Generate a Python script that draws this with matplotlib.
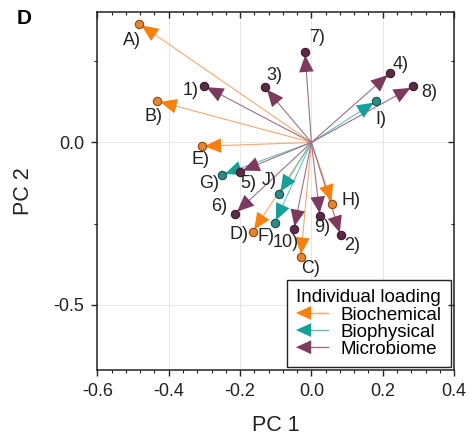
import matplotlib
matplotlib.use("Agg")
import matplotlib.pyplot as plt
from matplotlib.lines import Line2D
from matplotlib.patches import FancyArrowPatch, Polygon
from matplotlib.legend_handler import HandlerBase
from matplotlib.ticker import MultipleLocator

plt.rcParams["font.family"] = ["Liberation Sans", "DejaVu Sans"]

# PCA loadings (PC 1, PC 2) per variable group
biochem_names = ["A)", "B)", "C)", "D)", "E)", "H)"]
biochem_pc1 = [-0.483, -0.432, -0.030, -0.165, -0.308, 0.059]
biochem_pc2 = [0.365, 0.127, -0.353, -0.276, -0.012, -0.190]

biophys_names = ["F)", "G)", "I)", "J)"]
biophys_pc1 = [-0.103, -0.250, 0.182, -0.091]
biophys_pc2 = [-0.248, -0.100, 0.127, -0.159]

micro_names = ["1)", "2)", "3)", "4)", "5)", "6)", "7)", "8)", "9)", "10)"]
micro_pc1 = [-0.301, 0.082, -0.130, 0.220, -0.200, -0.214, -0.018, 0.285, 0.024, -0.049]
micro_pc2 = [0.174, -0.286, 0.169, 0.213, -0.090, -0.219, 0.277, 0.172, -0.227, -0.267]

# label offsets in points so the text sits clear of the arrow tips
label_offsets = {
    "A)": (-5, -12), "B)": (-3, -11), "C)": (7, -8.5), "D)": (-10, -2),
    "E)": (-1, -9.5), "H)": (13, 3), "F)": (-6.5, -9.5), "G)": (-9.5, -6),
    "I)": (3, -13), "J)": (-7, 10), "1)": (-10, -3.5), "2)": (8.5, -7),
    "3)": (6.5, 8.5), "4)": (8, 6.5), "5)": (6, -8.5), "6)": (-11.5, 5),
    "7)": (8.5, 11), "8)": (11.5, -4.5), "9)": (1.5, -8), "10)": (-6, -9.5),
}

groups = [
    ("Biochemical", biochem_names, biochem_pc1, biochem_pc2,
     "#F7800F", "#F6A870", "#E8852C", "#8A4A14"),
    ("Biophysical", biophys_names, biophys_pc1, biophys_pc2,
     "#17A09B", "#6CBDB9", "#2A8C84", "#1E4E4A"),
    ("Microbiome", micro_names, micro_pc1, micro_pc2,
     "#7B3A5E", "#9A7189", "#5B2A47", "#3A1A2E"),
]

TXT = "#222222"


class LoadingHandler(HandlerBase):
    """Legend entry drawn as a left-pointing arrowhead with a thin tail."""

    def create_artists(self, legend, orig_handle, xdescent, ydescent,
                       width, height, fontsize, trans):
        y = height / 2 - ydescent
        x0 = -xdescent
        head = orig_handle.get_markerfacecolor()
        tail = Line2D([x0 + 5, x0 + width], [y, y],
                      color=orig_handle.get_color(), lw=1.0)
        tri = Polygon([(x0, y), (x0 + 11, y + 5), (x0 + 11, y - 5)],
                      closed=True, facecolor=head, edgecolor="none")
        tail.set_transform(trans)
        tri.set_transform(trans)
        return [tail, tri]


def style_ticks(axis_obj, which_axis, direction, show_labels):
    axis_obj.tick_params(axis=which_axis, which="both", direction=direction,
                         labelsize=13, colors=TXT, pad=5.5)
    axis_obj.tick_params(axis=which_axis, which="major", length=4, width=1)
    axis_obj.tick_params(axis=which_axis, which="minor", length=2.5, width=0.8)
    if not show_labels:
        axis_obj.tick_params(axis=which_axis, which="both",
                             labelbottom=False, labeltop=False,
                             labelleft=False, labelright=False)


fig = plt.figure(figsize=(4.75, 4.42), dpi=100)
ax = fig.add_axes([0.205, 0.163, 0.751, 0.809])

XLIM, YLIM = (-0.6, 0.4), (-0.7, 0.4)
ax.set_xlim(*XLIM)
ax.set_ylim(*YLIM)
ax.xaxis.set_major_locator(MultipleLocator(0.2))
ax.xaxis.set_minor_locator(MultipleLocator(0.04))
ax.yaxis.set_major_locator(MultipleLocator(0.5))
ax.yaxis.set_minor_locator(MultipleLocator(0.25))
ax.grid(True, which="major", color="#e8e8e8", lw=0.7, zorder=0)
ax.set_axisbelow(True)

handles = []
for label, names, xs, ys, head_c, line_c, dot_c, edge_c in groups:
    for name, x, y in zip(names, xs, ys):
        ax.plot([0, x], [0, y], color=line_c, lw=0.8, zorder=2)
        arrow = FancyArrowPatch((0, 0), (x, y),
                                arrowstyle="-|>,head_length=1.1,head_width=0.48",
                                mutation_scale=11, lw=0, color=head_c,
                                shrinkA=0, shrinkB=2, zorder=3)
        ax.add_patch(arrow)
        ax.plot(x, y, "o", ms=6, mfc=dot_c, mec=edge_c, mew=0.8, zorder=4)
        ax.annotate(name, (x, y), xytext=label_offsets[name],
                    textcoords="offset points", ha="center", va="center",
                    fontsize=13, color=TXT, zorder=5)
    handles.append(Line2D([], [], color=line_c, markerfacecolor=head_c, label=label))

leg = ax.legend(handles=handles, title="Individual loading", loc="lower right",
                bbox_to_anchor=(1.0, 0.0), borderaxespad=0.15,
                handler_map={Line2D: LoadingHandler()},
                fontsize=13.5, title_fontsize=13.5, handlelength=1.7,
                handletextpad=0.7, labelspacing=0.0, borderpad=0.5,
                fancybox=False, framealpha=1, edgecolor=TXT)
leg.get_frame().set_linewidth(1.0)
leg._legend_box.align = "left"
leg.set_zorder(10)

for side in ["left", "right", "top", "bottom"]:
    ax.spines[side].set_linewidth(1.1)
    ax.spines[side].set_color(TXT)

style_ticks(ax, "x", "out", True)
style_ticks(ax, "y", "out", True)
ax.xaxis.set_major_formatter(plt.FuncFormatter(lambda v, p: f"{v:.1f}"))
ax.yaxis.set_major_formatter(plt.FuncFormatter(lambda v, p: f"{v:.1f}"))

# inward ticks mirrored on the top and right edges
ax_top = ax.twiny()
ax_top.set_xlim(*XLIM)
ax_top.xaxis.set_major_locator(MultipleLocator(0.2))
ax_top.xaxis.set_minor_locator(MultipleLocator(0.04))
style_ticks(ax_top, "x", "in", False)
ax_right = ax.twinx()
ax_right.set_ylim(*YLIM)
ax_right.yaxis.set_major_locator(MultipleLocator(0.5))
ax_right.yaxis.set_minor_locator(MultipleLocator(0.25))
style_ticks(ax_right, "y", "in", False)
for tw in (ax_top, ax_right):
    for sp in tw.spines.values():
        sp.set_visible(False)
ax_top.tick_params(axis="y", left=False, right=False, labelleft=False, labelright=False)
ax_right.tick_params(axis="x", top=False, bottom=False, labeltop=False, labelbottom=False)

ax.set_xlabel("PC 1", fontsize=15.5, labelpad=11, color=TXT)
ax.set_ylabel("PC 2", fontsize=15.5, labelpad=14, color=TXT)
fig.text(0.05, 0.958, "D", fontsize=15, fontweight="bold", va="center", ha="center")

fig.savefig("out.png", dpi=100)
